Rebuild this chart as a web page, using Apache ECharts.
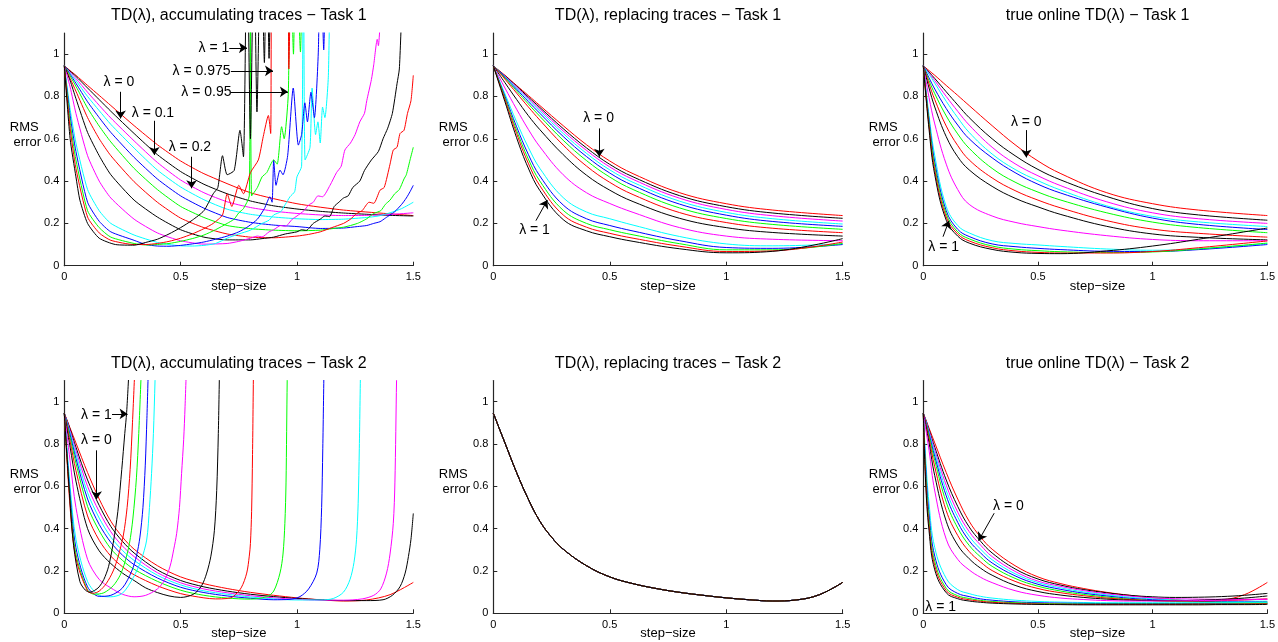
<!DOCTYPE html>
<html>
<head>
<meta charset="utf-8">
<script src="https://cdn.jsdelivr.net/npm/echarts@6/dist/echarts.min.js"></script>
<style>
html,body{margin:0;padding:0;background:#fff;}
#chart{width:1278px;height:642px;}
</style>
</head>
<body>
<div id="chart"></div>
<script>
// ---------------- DATA ----------------
const lambdas = ['0','0.1','0.2','0.3','0.4','0.5','0.6','0.7','0.8','0.9','0.95','0.975','0.99','1'];
const xTicks = [0, 0.5, 1, 1.5];
const yTicks = [0, 0.2, 0.4, 0.6, 0.8, 1];

// step-size grids
const stepsT1 = [0, 0.025, 0.05, 0.1, 0.15, 0.2, 0.3, 0.4, 0.5, 0.6, 0.8, 1.0, 1.2, 1.5];
const stepsT2 = [0, 0.01, 0.025, 0.05, 0.1, 0.15, 0.2, 0.25, 0.3, 0.4, 0.5, 0.6, 0.7, 0.8, 0.9, 1.0, 1.1, 1.2, 1.3, 1.4, 1.5];

// TD(0) is the same for every trace type
const td0Task1 = [0.945,0.922,0.9,0.852,0.805,0.757,0.662,0.572,0.495,0.435,0.345,0.293,0.263,0.237];
const td0Task2 = [0.945,0.918,0.875,0.805,0.665,0.54,0.435,0.36,0.303,0.225,0.172,0.14,0.117,0.099,0.085,0.073,0.064,0.058,0.063,0.088,0.146];

// TD(lambda), replacing traces - Task 1 (on stepsT1)
const replacing1 = [
  td0Task1,
  [0.945,0.921,0.898,0.849,0.798,0.748,0.648,0.557,0.479,0.42,0.331,0.279,0.249,0.224],
  [0.945,0.92,0.896,0.845,0.792,0.74,0.637,0.545,0.467,0.408,0.319,0.266,0.236,0.211],
  [0.945,0.919,0.894,0.84,0.785,0.731,0.625,0.531,0.453,0.394,0.305,0.252,0.222,0.197],
  [0.945,0.918,0.891,0.834,0.776,0.72,0.611,0.516,0.438,0.379,0.291,0.239,0.209,0.186],
  [0.945,0.916,0.887,0.826,0.765,0.706,0.593,0.497,0.419,0.36,0.273,0.223,0.195,0.172],
  [0.945,0.914,0.882,0.816,0.751,0.688,0.57,0.471,0.394,0.336,0.251,0.204,0.177,0.156],
  [0.945,0.905,0.865,0.786,0.71,0.643,0.525,0.428,0.357,0.303,0.224,0.18,0.157,0.14],
  [0.945,0.892,0.84,0.74,0.645,0.562,0.43,0.345,0.294,0.252,0.18,0.14,0.125,0.118],
  [0.945,0.878,0.812,0.68,0.56,0.46,0.322,0.254,0.222,0.192,0.138,0.103,0.094,0.103],
  [0.945,0.873,0.801,0.657,0.527,0.424,0.287,0.222,0.19,0.164,0.118,0.086,0.082,0.1],
  [0.945,0.869,0.793,0.64,0.505,0.4,0.262,0.2,0.17,0.146,0.104,0.075,0.075,0.105],
  [0.945,0.865,0.785,0.625,0.485,0.378,0.24,0.182,0.153,0.13,0.092,0.067,0.07,0.112],
  [0.945,0.86,0.775,0.605,0.462,0.355,0.218,0.165,0.137,0.115,0.08,0.061,0.068,0.128]
];

// true online TD(lambda) - Task 1 (on stepsT1)
const trueOnline1 = [
  td0Task1,
  [0.945,0.915,0.885,0.822,0.76,0.7,0.6,0.52,0.455,0.405,0.327,0.27,0.24,0.215],
  [0.945,0.91,0.875,0.8,0.73,0.665,0.56,0.482,0.425,0.378,0.302,0.25,0.222,0.2],
  [0.945,0.905,0.863,0.777,0.7,0.63,0.528,0.455,0.402,0.357,0.283,0.233,0.207,0.185],
  [0.945,0.888,0.835,0.743,0.665,0.6,0.51,0.44,0.385,0.343,0.277,0.225,0.195,0.171],
  [0.945,0.875,0.813,0.708,0.623,0.555,0.46,0.395,0.348,0.31,0.25,0.206,0.18,0.156],
  [0.945,0.86,0.785,0.66,0.568,0.5,0.415,0.355,0.31,0.273,0.213,0.173,0.153,0.135],
  [0.945,0.84,0.75,0.61,0.515,0.453,0.375,0.319,0.278,0.242,0.186,0.15,0.134,0.122],
  [0.945,0.795,0.67,0.48,0.36,0.29,0.235,0.205,0.185,0.168,0.142,0.124,0.118,0.118],
  [0.945,0.71,0.52,0.28,0.19,0.155,0.118,0.105,0.098,0.091,0.079,0.073,0.08,0.105],
  [0.945,0.69,0.49,0.26,0.172,0.138,0.103,0.09,0.082,0.076,0.068,0.067,0.076,0.1],
  [0.945,0.675,0.47,0.245,0.16,0.127,0.093,0.078,0.071,0.066,0.062,0.065,0.079,0.107],
  [0.945,0.66,0.45,0.23,0.15,0.117,0.085,0.07,0.063,0.06,0.06,0.067,0.085,0.117],
  [0.945,0.645,0.43,0.215,0.14,0.107,0.077,0.063,0.058,0.057,0.07,0.093,0.125,0.178]
];

// true online TD(lambda) - Task 2 (on stepsT2)
const trueOnline2 = [
  td0Task2,
  [0.945,0.916,0.868,0.785,0.63,0.505,0.408,0.34,0.285,0.21,0.162,0.133,0.112,0.097,0.085,0.078,0.075,0.076,0.079,0.085,0.094],
  [0.945,0.914,0.862,0.772,0.605,0.478,0.386,0.322,0.268,0.198,0.152,0.127,0.107,0.092,0.081,0.073,0.069,0.067,0.066,0.066,0.067],
  [0.945,0.911,0.855,0.758,0.58,0.455,0.364,0.303,0.253,0.187,0.145,0.12,0.101,0.087,0.076,0.068,0.063,0.06,0.058,0.057,0.057],
  [0.945,0.908,0.847,0.741,0.555,0.43,0.343,0.285,0.238,0.177,0.137,0.113,0.095,0.082,0.071,0.064,0.059,0.056,0.054,0.053,0.053],
  [0.945,0.904,0.838,0.722,0.525,0.403,0.321,0.266,0.222,0.165,0.128,0.105,0.089,0.077,0.067,0.06,0.056,0.053,0.052,0.051,0.052],
  [0.945,0.899,0.825,0.692,0.485,0.368,0.292,0.242,0.202,0.151,0.117,0.097,0.083,0.072,0.065,0.06,0.058,0.058,0.06,0.063,0.068],
  [0.945,0.892,0.806,0.65,0.435,0.322,0.258,0.213,0.18,0.132,0.103,0.086,0.075,0.067,0.062,0.06,0.06,0.062,0.066,0.072,0.082],
  [0.945,0.876,0.77,0.578,0.35,0.255,0.205,0.17,0.145,0.107,0.085,0.072,0.065,0.06,0.058,0.058,0.059,0.06,0.062,0.064,0.066],
  [0.945,0.74,0.52,0.31,0.165,0.112,0.093,0.08,0.072,0.062,0.056,0.053,0.051,0.05,0.05,0.05,0.05,0.05,0.05,0.05,0.05],
  [0.945,0.7,0.47,0.27,0.135,0.094,0.079,0.068,0.062,0.054,0.05,0.048,0.047,0.046,0.046,0.046,0.046,0.046,0.046,0.046,0.046],
  [0.945,0.67,0.44,0.245,0.118,0.083,0.07,0.061,0.056,0.05,0.047,0.045,0.044,0.044,0.044,0.044,0.044,0.044,0.044,0.045,0.046],
  [0.945,0.645,0.415,0.225,0.107,0.076,0.064,0.057,0.052,0.047,0.044,0.043,0.042,0.042,0.042,0.042,0.042,0.043,0.043,0.044,0.045],
  [0.945,0.62,0.39,0.205,0.097,0.069,0.058,0.052,0.048,0.044,0.042,0.041,0.04,0.04,0.04,0.04,0.04,0.04,0.041,0.041,0.042]
];

// TD(lambda), accumulating traces - Task 1 ([step-size, RMS error] pairs)
const accumulating1 = [
  null, // lambda = 0 : td0Task1
  [[0,0.945],[0.025,0.92],[0.05,0.895],[0.1,0.84],[0.15,0.785],[0.2,0.73],[0.3,0.625],[0.4,0.525],[0.5,0.445],[0.6,0.385],[0.7,0.34],[0.8,0.306],[0.9,0.283],[1.0,0.268],[1.1,0.257],[1.2,0.249],[1.3,0.243],[1.4,0.238],[1.5,0.235]],
  [[0,0.945],[0.025,0.915],[0.05,0.885],[0.1,0.82],[0.15,0.758],[0.2,0.698],[0.3,0.59],[0.4,0.488],[0.5,0.405],[0.6,0.345],[0.7,0.302],[0.8,0.275],[0.9,0.258],[1.0,0.247],[1.1,0.24],[1.2,0.237],[1.3,0.238],[1.4,0.242],[1.5,0.25]],
  [[0,0.945],[0.025,0.91],[0.05,0.875],[0.1,0.8],[0.15,0.733],[0.2,0.668],[0.3,0.556],[0.4,0.452],[0.5,0.372],[0.6,0.312],[0.7,0.267],[0.8,0.243],[0.9,0.23],[1.0,0.222],[1.1,0.218],[1.2,0.22],[1.3,0.228],[1.35,0.235],[1.4,0.25],[1.45,0.27],[1.5,0.3]],
  [[0,0.945],[0.025,0.905],[0.05,0.862],[0.1,0.775],[0.15,0.7],[0.2,0.63],[0.3,0.512],[0.4,0.41],[0.5,0.33],[0.6,0.272],[0.7,0.228],[0.8,0.205],[0.9,0.192],[1.0,0.185],[1.1,0.176],[1.2,0.178],[1.26,0.185],[1.3,0.19],[1.33,0.2],[1.357,0.208],[1.38,0.225],[1.4,0.24],[1.42,0.255],[1.45,0.29],[1.47,0.32],[1.486,0.35],[1.5,0.38]],
  [[0,0.945],[0.025,0.897],[0.05,0.848],[0.1,0.745],[0.15,0.66],[0.2,0.585],[0.3,0.46],[0.4,0.36],[0.5,0.28],[0.6,0.228],[0.7,0.19],[0.8,0.175],[0.9,0.168],[1.0,0.165],[1.1,0.168],[1.15,0.175],[1.2,0.182],[1.23,0.19],[1.26,0.2],[1.28,0.21],[1.3,0.222],[1.33,0.247],[1.36,0.26],[1.38,0.29],[1.4,0.31],[1.42,0.34],[1.44,0.36],[1.46,0.41],[1.47,0.43],[1.486,0.5],[1.5,0.56]],
  [[0,0.945],[0.025,0.885],[0.05,0.825],[0.1,0.7],[0.15,0.6],[0.2,0.52],[0.3,0.397],[0.4,0.3],[0.5,0.225],[0.6,0.18],[0.7,0.15],[0.8,0.135],[0.9,0.132],[1.0,0.14],[1.05,0.148],[1.1,0.16],[1.15,0.18],[1.2,0.2],[1.23,0.22],[1.257,0.247],[1.28,0.26],[1.31,0.3],[1.33,0.295],[1.357,0.357],[1.375,0.37],[1.4,0.48],[1.414,0.547],[1.43,0.56],[1.443,0.625],[1.46,0.64],[1.475,0.72],[1.49,0.78],[1.5,0.9]],
  [[0,0.945],[0.025,0.875],[0.05,0.79],[0.1,0.63],[0.15,0.52],[0.2,0.43],[0.3,0.31],[0.4,0.23],[0.5,0.17],[0.6,0.135],[0.7,0.122],[0.8,0.122],[0.85,0.128],[0.9,0.135],[0.95,0.15],[1.0,0.16],[1.02,0.17],[1.04,0.167],[1.07,0.2],[1.1,0.22],[1.12,0.235],[1.14,0.232],[1.16,0.28],[1.18,0.3],[1.2,0.32],[1.22,0.33],[1.24,0.37],[1.27,0.4],[1.29,0.45],[1.32,0.5],[1.35,0.54],[1.37,0.6],[1.39,0.65],[1.41,0.72],[1.43,0.86],[1.44,0.93],[1.45,1.2]],
  [[0,0.945],[0.025,0.845],[0.05,0.72],[0.1,0.52],[0.15,0.4],[0.2,0.32],[0.3,0.22],[0.4,0.155],[0.5,0.118],[0.6,0.102],[0.7,0.105],[0.75,0.115],[0.8,0.13],[0.83,0.14],[0.85,0.136],[0.88,0.16],[0.9,0.17],[0.93,0.19],[0.95,0.186],[0.98,0.22],[1.0,0.235],[1.03,0.26],[1.05,0.287],[1.07,0.3],[1.09,0.33],[1.11,0.326],[1.142,0.38],[1.17,0.44],[1.19,0.47],[1.206,0.547],[1.23,0.58],[1.25,0.62],[1.27,0.68],[1.29,0.72],[1.3,0.78],[1.32,0.88],[1.33,0.95],[1.345,1.07],[1.35,1.04],[1.36,1.2]],
  [[0,0.945],[0.025,0.74],[0.05,0.58],[0.1,0.36],[0.15,0.26],[0.2,0.2],[0.3,0.145],[0.4,0.11],[0.45,0.1],[0.5,0.094],[0.55,0.093],[0.6,0.096],[0.65,0.105],[0.7,0.13],[0.75,0.15],[0.8,0.168],[0.85,0.2],[0.88,0.215],[0.9,0.24],[0.93,0.255],[0.95,0.29],[0.97,0.326],[0.99,0.35],[1.0,0.42],[1.02,0.47],[1.028,1.6],[1.035,0.5],[1.056,0.56],[1.065,0.84],[1.08,0.62],[1.09,0.68],[1.1,0.58],[1.11,0.75],[1.12,0.7],[1.135,0.9],[1.145,1.6]],
  [[0,0.945],[0.025,0.71],[0.05,0.54],[0.1,0.3],[0.15,0.21],[0.2,0.16],[0.3,0.12],[0.35,0.1],[0.4,0.093],[0.45,0.092],[0.5,0.096],[0.55,0.103],[0.6,0.112],[0.65,0.125],[0.7,0.14],[0.75,0.16],[0.79,0.185],[0.83,0.22],[0.86,0.27],[0.884,0.326],[0.893,0.3],[0.9,0.5],[0.91,0.38],[0.927,0.452],[0.94,0.43],[0.96,0.52],[0.984,0.84],[1.006,0.57],[1.02,0.62],[1.034,0.77],[1.045,0.68],[1.06,0.82],[1.075,0.7],[1.092,1.02],[1.1,1.6],[1.115,1.02],[1.125,1.6]],
  [[0,0.945],[0.025,0.68],[0.05,0.5],[0.1,0.26],[0.15,0.18],[0.2,0.135],[0.3,0.105],[0.35,0.098],[0.4,0.1],[0.45,0.105],[0.5,0.115],[0.55,0.128],[0.6,0.145],[0.65,0.17],[0.7,0.2],[0.73,0.22],[0.75,0.25],[0.77,0.27],[0.795,0.33],[0.8,1.6],[0.805,0.33],[0.83,0.37],[0.85,0.42],[0.87,0.44],[0.9,0.5],[0.915,0.48],[0.934,0.657],[0.945,0.6],[0.963,0.82],[0.97,1.6],[0.985,1.0],[0.995,1.6],[1.015,1.01],[1.025,1.6]],
  [[0,0.945],[0.025,0.65],[0.05,0.46],[0.1,0.23],[0.15,0.155],[0.2,0.12],[0.3,0.1],[0.35,0.1],[0.4,0.105],[0.45,0.115],[0.5,0.13],[0.55,0.15],[0.6,0.175],[0.64,0.2],[0.68,0.24],[0.7,0.34],[0.72,0.28],[0.75,0.38],[0.77,0.34],[0.8,0.44],[0.834,0.5],[0.855,0.61],[0.877,0.71],[0.887,0.625],[0.895,1.6],[0.955,1.6],[0.965,0.93],[0.975,1.6]],
  [[0,0.945],[0.025,0.6],[0.05,0.42],[0.067,0.31],[0.1,0.2],[0.15,0.13],[0.22,0.1],[0.3,0.097],[0.35,0.11],[0.4,0.125],[0.45,0.15],[0.5,0.18],[0.55,0.215],[0.6,0.26],[0.64,0.34],[0.66,0.37],[0.68,0.52],[0.7,0.43],[0.73,0.45],[0.755,0.64],[0.77,0.515],[0.785,1.6],[0.8,0.6],[0.815,1.6],[0.828,0.727],[0.845,1.6],[0.86,0.96],[0.87,1.6],[0.88,0.98],[0.89,1.6]]
];

// TD(lambda), accumulating traces - Task 2 ([step-size, RMS error] pairs)
const accumulating2 = [
  null, // lambda = 0 : td0Task2
  [[0,0.945],[0.025,0.87],[0.05,0.785],[0.1,0.63],[0.15,0.51],[0.2,0.41],[0.25,0.34],[0.3,0.285],[0.4,0.205],[0.5,0.155],[0.6,0.125],[0.7,0.105],[0.8,0.09],[0.9,0.079],[1.0,0.07],[1.1,0.064],[1.2,0.06],[1.3,0.06],[1.37,0.064],[1.41,0.085],[1.443,0.126],[1.465,0.19],[1.479,0.268],[1.49,0.35],[1.5,0.472]],
  [[0,0.945],[0.025,0.862],[0.05,0.77],[0.1,0.6],[0.15,0.48],[0.2,0.385],[0.25,0.318],[0.3,0.268],[0.4,0.192],[0.5,0.144],[0.6,0.115],[0.7,0.097],[0.8,0.083],[0.9,0.073],[1.0,0.066],[1.1,0.062],[1.2,0.062],[1.28,0.068],[1.33,0.085],[1.36,0.115],[1.385,0.19],[1.4,0.28],[1.414,0.425],[1.421,0.62],[1.428,1.1],[1.433,1.4]],
  [[0,0.945],[0.025,0.853],[0.05,0.752],[0.1,0.57],[0.15,0.45],[0.2,0.36],[0.25,0.297],[0.3,0.25],[0.4,0.18],[0.5,0.134],[0.6,0.106],[0.7,0.09],[0.8,0.077],[0.9,0.068],[1.0,0.063],[1.1,0.063],[1.156,0.07],[1.2,0.1],[1.228,0.16],[1.245,0.24],[1.256,0.35],[1.263,0.52],[1.268,0.78],[1.273,1.15]],
  [[0,0.945],[0.025,0.843],[0.05,0.732],[0.1,0.54],[0.15,0.42],[0.2,0.335],[0.25,0.275],[0.3,0.23],[0.4,0.167],[0.5,0.123],[0.6,0.098],[0.7,0.082],[0.8,0.071],[0.9,0.064],[0.97,0.066],[1.013,0.079],[1.05,0.115],[1.085,0.19],[1.098,0.3],[1.106,0.5],[1.111,0.78],[1.116,1.15]],
  [[0,0.945],[0.025,0.83],[0.05,0.71],[0.1,0.505],[0.15,0.39],[0.2,0.305],[0.25,0.25],[0.3,0.208],[0.4,0.151],[0.5,0.109],[0.6,0.085],[0.7,0.072],[0.8,0.067],[0.87,0.079],[0.9,0.105],[0.927,0.19],[0.94,0.28],[0.948,0.425],[0.953,0.62],[0.958,1.1],[0.962,1.4]],
  [[0,0.945],[0.025,0.812],[0.05,0.675],[0.1,0.46],[0.15,0.345],[0.2,0.27],[0.25,0.22],[0.3,0.182],[0.4,0.13],[0.5,0.093],[0.6,0.073],[0.65,0.068],[0.7,0.07],[0.726,0.079],[0.76,0.12],[0.784,0.19],[0.795,0.27],[0.8,0.33],[0.805,0.48],[0.809,0.75],[0.813,1.15]],
  [[0,0.945],[0.025,0.785],[0.05,0.625],[0.1,0.4],[0.15,0.295],[0.2,0.235],[0.25,0.19],[0.3,0.155],[0.35,0.12],[0.4,0.098],[0.45,0.082],[0.5,0.075],[0.555,0.09],[0.59,0.13],[0.612,0.19],[0.63,0.27],[0.645,0.39],[0.655,0.58],[0.662,0.85],[0.667,1.15]],
  [[0,0.945],[0.025,0.72],[0.05,0.5],[0.1,0.255],[0.15,0.16],[0.2,0.12],[0.25,0.09],[0.3,0.078],[0.35,0.085],[0.4,0.115],[0.43,0.155],[0.454,0.22],[0.47,0.3],[0.483,0.378],[0.495,0.5],[0.504,0.66],[0.513,0.82],[0.519,0.976],[0.526,1.2]],
  [[0,0.945],[0.025,0.6],[0.05,0.35],[0.1,0.15],[0.15,0.085],[0.2,0.078],[0.25,0.095],[0.297,0.17],[0.33,0.25],[0.354,0.346],[0.366,0.5],[0.375,0.66],[0.383,0.85],[0.39,1.1],[0.395,1.3]],
  [[0,0.945],[0.025,0.56],[0.05,0.31],[0.1,0.125],[0.15,0.08],[0.2,0.085],[0.25,0.12],[0.29,0.2],[0.31,0.27],[0.325,0.36],[0.338,0.5],[0.348,0.7],[0.355,0.92],[0.361,1.15]],
  [[0,0.945],[0.025,0.53],[0.05,0.28],[0.1,0.11],[0.13,0.09],[0.17,0.097],[0.21,0.13],[0.24,0.18],[0.26,0.24],[0.28,0.33],[0.295,0.45],[0.31,0.64],[0.32,0.85],[0.331,1.15]],
  [[0,0.945],[0.025,0.5],[0.05,0.26],[0.1,0.105],[0.125,0.095],[0.15,0.105],[0.18,0.14],[0.21,0.2],[0.232,0.27],[0.254,0.37],[0.27,0.5],[0.283,0.68],[0.293,0.9],[0.303,1.15]],
  [[0,0.945],[0.02,0.6],[0.04,0.32],[0.067,0.15],[0.09,0.11],[0.11,0.1],[0.13,0.108],[0.15,0.125],[0.17,0.16],[0.19,0.22],[0.21,0.33],[0.23,0.48],[0.247,0.68],[0.26,0.85],[0.268,0.95],[0.278,1.15]]
];

// ---------------- BUILD ----------------
const zip = (xs, ys) => xs.map((x, i) => [x, ys[i]]);
const lineColors = ['#ff0000','#000000','#ff00ff','#00ffff','#0000ff','#00ff00','#ff0000','#000000','#ff00ff','#00ffff','#0000ff','#00ff00','#ff0000','#000000'];
const FONT = '"Liberation Sans", Arial, Helvetica, sans-serif';

const acc1Lines = accumulating1.map((d, i) => i === 0 ? zip(stepsT1, td0Task1) : d);
const rep1Lines = replacing1.map(v => zip(stepsT1, v));
const to1Lines = trueOnline1.map(v => zip(stepsT1, v));
const acc2Lines = accumulating2.map((d, i) => i === 0 ? zip(stepsT2, td0Task2) : d);
const rep2Lines = lambdas.map(() => zip(stepsT2, td0Task2)); // all lambdas coincide
const to2Lines = trueOnline2.map(v => zip(stepsT2, v));

const panels = [
  {title:'TD(λ), accumulating traces − Task 1', box:[64.3, 33, 349, 232.7], lines:acc1Lines, smooth:0.2,
   arrows:[[[0.709,1.03],[0.785,1.03]],[[0.716,0.921],[0.897,0.921]],[[0.716,0.822],[0.961,0.822]],[[0.242,0.822],[0.242,0.696]],[[0.387,0.685],[0.387,0.523]],[[0.547,0.515],[0.547,0.366]]],
   notes:[['λ = 1',0.643,1.03],['λ = 0.975',0.59,0.921],['λ = 0.95',0.611,0.822],['λ = 0',0.235,0.869],['λ = 0.1',0.381,0.723],['λ = 0.2',0.54,0.562]]},
  {title:'TD(λ), replacing traces − Task 1', box:[493.3, 33, 349.4, 232.7], lines:rep1Lines, smooth:0.4,
   arrows:[[[0.455,0.649],[0.455,0.515]],[[0.183,0.213],[0.232,0.31]]],
   notes:[['λ = 0',0.452,0.696],['λ = 1',0.177,0.169]]},
  {title:'true online TD(λ) − Task 1', box:[923.3, 33, 348.4, 232.7], lines:to1Lines, smooth:0.4,
   arrows:[[[0.449,0.641],[0.449,0.512]],[[0.086,0.137],[0.112,0.213]]],
   notes:[['λ = 0',0.449,0.68],['λ = 1',0.089,0.087]]},
  {title:'TD(λ), accumulating traces − Task 2', box:[64.3, 380.5, 349, 232.8], lines:acc2Lines, smooth:0.3,
   arrows:[[[0.205,0.942],[0.272,0.942]],[[0.139,0.77],[0.139,0.539]]],
   notes:[['λ = 1',0.138,0.937],['λ = 0',0.138,0.819]]},
  {title:'TD(λ), replacing traces − Task 2', box:[493.3, 380.5, 349.4, 232.8], lines:rep2Lines, smooth:0.4,
   arrows:[], notes:[]},
  {title:'true online TD(λ) − Task 2', box:[923.3, 380.5, 348.4, 232.8], lines:to2Lines, smooth:0.4,
   arrows:[[[0.309,0.473],[0.241,0.343]]],
   notes:[['λ = 0',0.371,0.504],['λ = 1',0.076,0.031]]}
];

const grids = [], xAxes = [], yAxes = [], series = [], graphics = [];
const axisColor = '#262626';
const txt = (x, y, text, size) => ({
  type:'text', x:x, y:y, silent:true,
  style:{text:text, fill:'#000', font: size + 'px ' + FONT, align:'center', verticalAlign:'middle', textAlign:'center', textVerticalAlign:'middle'}
});

panels.forEach((p, pi) => {
  const [l, t, w, h] = p.box;
  grids.push({left:l, top:t, width:w, height:h, containLabel:false});
  xAxes.push({
    type:'value', gridIndex:pi, min:0, max:1.5, interval:0.5,
    axisLine:{show:true, onZero:false, lineStyle:{color:axisColor, width:1.2}},
    axisTick:{show:true, inside:true, length:4, lineStyle:{color:axisColor, width:1}, customValues:xTicks},
    axisLabel:{show:true, color:'#000', fontSize:11, fontFamily:FONT, margin:6, customValues:xTicks, showMaxLabel:true, showMinLabel:true,
               formatter:v => String(+(+v).toFixed(2))},
    splitLine:{show:false}
  });
  yAxes.push({
    type:'value', gridIndex:pi, min:0, max:1.1, interval:0.2,
    axisLine:{show:true, onZero:false, lineStyle:{color:axisColor, width:1.2}},
    axisTick:{show:true, inside:true, length:4, lineStyle:{color:axisColor, width:1}, customValues:yTicks},
    axisLabel:{show:true, color:'#000', fontSize:11, fontFamily:FONT, margin:5, customValues:yTicks,
               formatter:v => String(+(+v).toFixed(2))},
    splitLine:{show:false}
  });
  p.lines.forEach((d, li) => {
    series.push({
      type:'line', name:'λ = ' + lambdas[li], xAxisIndex:pi, yAxisIndex:pi, data:d,
      showSymbol:false, symbol:'none', smooth:p.smooth, clip:true,
      lineStyle:{width:1, color:lineColors[li]}, itemStyle:{color:lineColors[li]},
      silent:true, animation:false, z:2
    });
  });
  series.push({
    type:'line', xAxisIndex:pi, yAxisIndex:pi, data:[], silent:true, animation:false, z:5,
    markLine:{
      silent:true, animation:false, symbol:['none','arrow'], symbolSize:8,
      lineStyle:{color:'#000', width:1, type:'solid'}, label:{show:false},
      emphasis:{disabled:true},
      data:p.arrows.map(a => [{coord:a[0]}, {coord:a[1]}])
    },
    markPoint:{
      silent:true, animation:false, symbol:'circle', symbolSize:1, itemStyle:{color:'rgba(0,0,0,0)'},
      label:{show:true, position:'inside', color:'#000', fontSize:14, fontFamily:FONT, formatter:q => q.name},
      data:p.notes.map(n => ({name:n[0], coord:[n[1], n[2]]}))
    }
  });
  const cx = l + w / 2;
  const bottom = t + h;
  graphics.push(txt(cx, t - 17, p.title, 16));
  graphics.push(txt(cx, bottom + 20.5, 'step−size', 13));
  graphics.push(txt(l - 40, t + 94, 'RMS', 13));
  graphics.push(txt(l - 37, t + 109, 'error', 13));
});

const chart = echarts.init(document.getElementById('chart'), null, {renderer:'canvas'});
chart.setOption({
  animation:false,
  backgroundColor:'#ffffff',
  grid:grids, xAxis:xAxes, yAxis:yAxes, series:series,
  graphic:graphics
});
</script>
</body>
</html>
